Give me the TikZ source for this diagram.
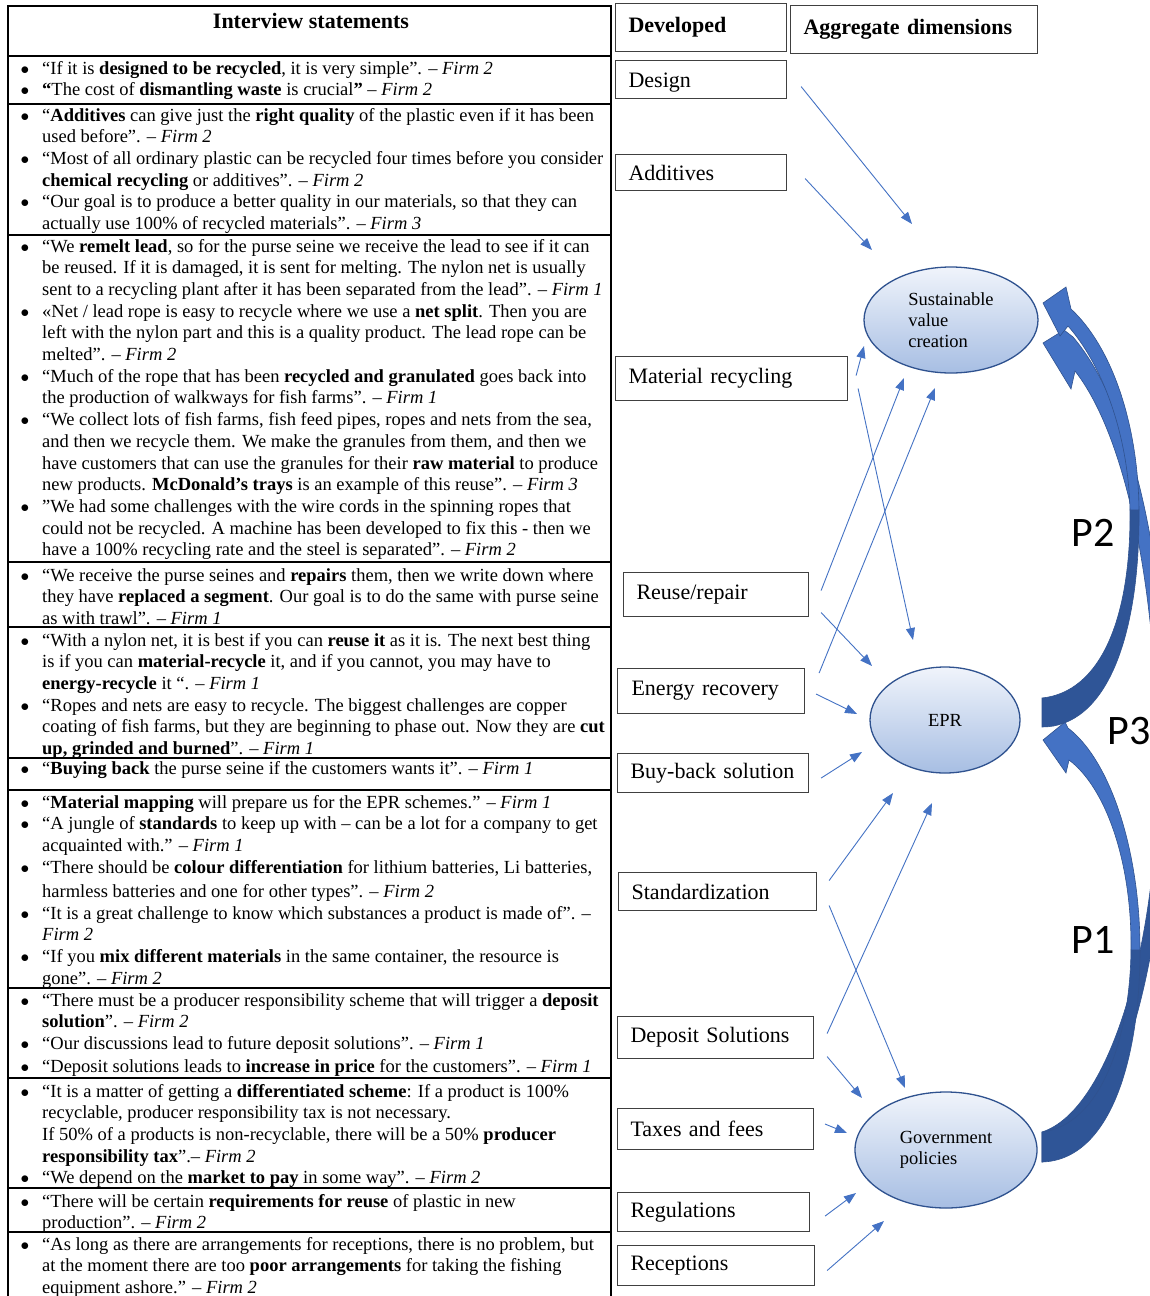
\documentclass[tikz,border=0pt]{standalone}
\usepackage{fontspec}
\setmainfont{Liberation Serif}
\newfontfamily\pfont{Carlito}
\usetikzlibrary{arrows.meta,calc,shapes.geometric}
\definecolor{arrblue}{HTML}{4472C4}
\definecolor{darkblue}{HTML}{2F5597}
\definecolor{edgeblue}{HTML}{2F528F}
\definecolor{ellTop}{HTML}{F0F4FB}
\definecolor{ellBot}{HTML}{A7BEE3}
\newcommand{\bl}{\makebox[22pt][l]{\hspace{0.5pt}$\bullet$}}
\begin{document}
\begin{tikzpicture}[x=1pt,y=-1pt,
  rowtext/.style={anchor=base west, inner sep=0pt, font=\fontsize{18.5}{21.7}\selectfont},
  tline/.style={line width=1.4pt, black},
  lbl/.style={draw=black!75, line width=1.1pt, anchor=north west, inner xsep=13pt, inner ysep=0pt, align=left, font=\fontsize{22}{24}\selectfont},
  ell/.style={ellipse, draw=edgeblue, line width=1.3pt, top color=ellTop, bottom color=ellBot, inner sep=0pt, align=left, font=\fontsize{18.5}{21}\selectfont},
  link/.style={arrblue, line width=0.9pt, -{Triangle[length=12pt,width=9pt]}},
  plab/.style={font=\pfont\fontsize{42}{42}\selectfont, inner sep=0pt},
  bandL/.style={fill=arrblue, draw=edgeblue, line width=0.6pt},
  bandD/.style={fill=darkblue, draw=edgeblue, line width=0.6pt}]
\useasboundingbox (0,0) rectangle (1150,1296);
\fill[white] (0,0) rectangle (1150,1296);
\clip (0,0) rectangle (1150,1296);

% ---------- table ----------
\draw[tline] (8,6) rectangle (611,1300);
\foreach \yy in {56,104,235,562,627,758,790,988,1078,1188,1232}
  \draw[tline] (8,\yy) -- (611,\yy);

\node[inner sep=0pt, font=\fontsize{22}{24}\selectfont\bfseries] (hdr) at (311,21) {Interview statements};

\node[rowtext] (r1) at (20,74) {\begin{tabular}[t]{@{}l@{}l@{}}
\bl & “If it is \textbf{designed to be recycled}, it is very simple”. – \textit{Firm 2}\\
\bl & \textbf{“}The cost of \textbf{dismantling waste} is crucial\textbf{”} – \textit{Firm 2}
\end{tabular}};

\node[rowtext] (r2) at (20,121) {\begin{tabular}[t]{@{}l@{}l@{}}
\bl & “\textbf{Additives} can give just the \textbf{right quality} of the plastic even if it has been\\
 & used before”. – \textit{Firm 2}\\
\bl & “Most of all ordinary plastic can be recycled four times before you consider\\
 & \textbf{chemical recycling} or additives”. – \textit{Firm 2}\\
\bl & “Our goal is to produce a better quality in our materials, so that they can\\
 & actually use 100\% of recycled materials”. – \textit{Firm 3}
\end{tabular}};

\node[rowtext] (r3) at (20,252) {\begin{tabular}[t]{@{}l@{}l@{}}
\bl & “We \textbf{remelt lead}, so for the purse seine we receive the lead to see if it can\\
 & be reused. If it is damaged, it is sent for melting. The nylon net is usually\\
 & sent to a recycling plant after it has been separated from the lead”. – \textit{Firm 1}\\
\bl & «Net / lead rope is easy to recycle where we use a \textbf{net split}. Then you are\\
 & left with the nylon part and this is a quality product. The lead rope can be\\
 & melted”. – \textit{Firm 2}\\
\bl & “Much of the rope that has been \textbf{recycled and granulated} goes back into\\
 & the production of walkways for fish farms”. – \textit{Firm 1}\\
\bl & “We collect lots of fish farms, fish feed pipes, ropes and nets from the sea,\\
 & and then we recycle them. We make the granules from them, and then we\\
 & have customers that can use the granules for their \textbf{raw material} to produce\\
 & new products. \textbf{McDonald’s trays} is an example of this reuse”. – \textit{Firm 3}\\
\bl & "We had some challenges with the wire cords in the spinning ropes that\\
 & could not be recycled. A machine has been developed to fix this - then we\\
 & have a 100\% recycling rate and the steel is separated”. – \textit{Firm 2}
\end{tabular}};

\node[rowtext] (r4) at (20,581) {\begin{tabular}[t]{@{}l@{}l@{}}
\bl & “We receive the purse seines and \textbf{repairs} them, then we write down where\\
 & they have \textbf{replaced a segment}. Our goal is to do the same with purse seine\\
 & as with trawl”. – \textit{Firm 1}
\end{tabular}};

\node[rowtext] (r5) at (20,646) {\begin{tabular}[t]{@{}l@{}l@{}}
\bl & “With a nylon net, it is best if you can \textbf{reuse it} as it is. The next best thing\\
 & is if you can \textbf{material-recycle} it, and if you cannot, you may have to\\
 & \textbf{energy-recycle} it “. – \textit{Firm 1}\\
\bl & “Ropes and nets are easy to recycle. The biggest challenges are copper\\
 & coating of fish farms, but they are beginning to phase out. Now they are \textbf{cut}\\
 & \textbf{up, grinded and burned}”. – \textit{Firm 1}
\end{tabular}};

\node[rowtext] (r6) at (20,774) {\begin{tabular}[t]{@{}l@{}l@{}}
\bl & “\textbf{Buying back} the purse seine if the customers wants it”. – \textit{Firm 1}
\end{tabular}};

\node[rowtext] (r7) at (20,808) {\begin{tabular}[t]{@{}l@{}l@{}}
\bl & “\textbf{Material mapping} will prepare us for the EPR schemes.” – \textit{Firm 1}\\
\bl & “A jungle of \textbf{standards} to keep up with – can be a lot for a company to get\\
 & acquainted with.” – \textit{Firm 1}\\
\bl & “There should be \textbf{colour differentiation} for lithium batteries, Li batteries,\\[2.5pt]
 & harmless batteries and one for other types”. – \textit{Firm 2}\\
\bl & “It is a great challenge to know which substances a product is made of”. –\\
 & \textit{Firm 2}\\
\bl & “If you \textbf{mix different materials} in the same container, the resource is\\
 & gone”. – \textit{Firm 2}
\end{tabular}};

\node[rowtext] (r8) at (20,1006) {\begin{tabular}[t]{@{}l@{}l@{}}
\bl & “There must be a producer responsibility scheme that will trigger a \textbf{deposit}\\
 & \textbf{solution}”. – \textit{Firm 2}\\
\bl & “Our discussions lead to future deposit solutions”. – \textit{Firm 1}\\[1.5pt]
\bl & “Deposit solutions leads to \textbf{increase in price} for the customers”. – \textit{Firm 1}
\end{tabular}};

\node[rowtext] (r9) at (20,1097) {\begin{tabular}[t]{@{}l@{}l@{}}
\bl & “It is a matter of getting a \textbf{differentiated scheme}: If a product is 100\%\\
 & recyclable, producer responsibility tax is not necessary.\\
 & If 50\% of a products is non-recyclable, there will be a 50\% \textbf{producer}\\
 & \textbf{responsibility tax}”.– \textit{Firm 2}\\
\bl & “We depend on the \textbf{market to pay} in some way”. – \textit{Firm 2}
\end{tabular}};

\node[rowtext] (r10) at (20,1207) {\begin{tabular}[t]{@{}l@{}l@{}}
\bl & “There will be certain \textbf{requirements for reuse} of plastic in new\\
 & production”. – \textit{Firm 2}
\end{tabular}};

\node[rowtext] (r11) at (20,1250) {\begin{tabular}[t]{@{}l@{}l@{}}
\bl & “As long as there are arrangements for receptions, there is no problem, but\\
 & at the moment there are too \textbf{poor arrangements} for taking the fishing\\
 & equipment ashore.” – \textit{Firm 2}
\end{tabular}};

% ---------- label boxes ----------
\node[lbl, minimum width=171pt, minimum height=48pt, text width=145pt] (dev) at (615,3) {\textbf{Developed}};
\node[lbl, minimum width=247pt, minimum height=48pt, text width=221pt] (agg) at (790,5) {\textbf{Aggregate dimensions}};
\node[lbl, minimum width=171pt, minimum height=38pt, text width=145pt, text height=17pt, text depth=2pt] (design) at (615,60) {Design};
\node[lbl, minimum width=171pt, minimum height=36pt, text width=145pt] (additives) at (615,154) {Additives};
\node[lbl, minimum width=232pt, minimum height=44pt, text width=206pt] (matrec) at (615,356) {Material recycling};
\node[lbl, minimum width=185pt, minimum height=44pt, text width=159pt] (reuse) at (623,572) {Reuse/repair};
\node[lbl, minimum width=187pt, minimum height=45pt, text width=159pt, inner xsep=14pt] (energy) at (617,668) {Energy recovery};
\node[lbl, minimum width=191pt, minimum height=39pt, text width=165pt] (buyback) at (617,753) {Buy-back solution};
\node[lbl, minimum width=198pt, minimum height=38pt, text width=172pt] (standard) at (618,872) {Standardization};
\node[lbl, minimum width=196pt, minimum height=42pt, text width=170pt] (deposit) at (617,1016) {Deposit Solutions};
\node[lbl, minimum width=196pt, minimum height=41pt, text width=170pt] (taxes) at (617,1108) {Taxes and fees};
\node[lbl, minimum width=192pt, minimum height=39pt, text width=166pt] (regul) at (617,1192) {Regulations};
\node[lbl, minimum width=197pt, minimum height=40pt, text width=171pt] (recep) at (617,1245) {Receptions};

% ---------- curved thick arrows ----------
% P3: Government policies -> Sustainable value creation (lower head)
\path[bandD] (1168,740) .. controls (1170,950) and (1120,1140) .. (1042,1162) -- (1042,1132) .. controls (1110,1110) and (1162,940) .. (1158,740) -- cycle;
\path[bandL] (1073,337) .. controls (1120,392) and (1165,520) .. (1168,740) -- (1158,740) .. controls (1152,540) and (1115,422) .. (1075,371) -- (1071,389) -- (1043,343) -- (1064,330) -- cycle;
% P1: Government policies -> EPR
\path[bandD] (1140,950) .. controls (1140,1060) and (1110,1160) .. (1042,1162) -- (1042,1132) .. controls (1100,1125) and (1130,1040) .. (1131,950) -- cycle;
\path[bandL] (1068,728) .. controls (1110,760) and (1140,850) .. (1140,950) -- (1131,950) .. controls (1132,860) and (1105,787) .. (1069,760) -- (1066,773) -- (1043,740) -- (1065,722) -- cycle;
% P2: EPR -> Sustainable value creation (upper head)
\path[bandD] (1042,727) .. controls (1105,727) and (1140,640) .. (1139,510) -- (1130,510) .. controls (1131,620) and (1100,692) .. (1042,698) -- cycle;
\path[bandL] (1139,510) .. controls (1138,420) and (1110,345) .. (1071,309) -- (1066,287) -- (1043,303) -- (1060,336) -- (1068,326) .. controls (1100,362) and (1128,430) .. (1130,510) -- cycle;

% ---------- ellipses ----------
\node[ell, minimum width=174pt, minimum height=106pt] (svc) at (951,320) {Sustainable\\value\\creation};
\node[ell, minimum width=150pt, minimum height=106pt] (epr) at (945,720) {EPR};
\node[ell, minimum width=182pt, minimum height=116pt] (gov) at (946,1150) {Government\\policies};

\node[plab] (p2) at (1093,533) {P2};
\node[plab] (p3) at (1129,731) {P3};
\node[plab] (p1) at (1093,940) {P1};

% ---------- thin arrows ----------
\draw[link] ($(design.east)+(14,7)$) -- ($(svc.center)+(-39,-96)$);
\draw[link] ($(additives.east)+(18,6)$) -- ($(svc.center)+(-79,-70)$);
\draw[link] ($(matrec.east)+(8,-3)$) -- ($(svc.center)+(-87,26)$);
\draw[link] ($(matrec.east)+(10,10)$) -- ($(epr.center)+(-32,-80)$);
\draw[link] ($(reuse.east)+(12,-4)$) -- ($(svc.center)+(-47,58)$);
\draw[link] ($(reuse.east)+(12,18)$) -- ($(epr.center)+(-73,-54)$);
\draw[link] ($(energy.east)+(14,-18)$) -- ($(svc.center)+(-16,68)$);
\draw[link] ($(energy.east)+(11,3)$) -- ($(epr.center)+(-88,-6)$);
\draw[link] ($(buyback.east)+(12,5)$) -- ($(epr.center)+(-83,32)$);
\draw[link] ($(standard.east)+(12,-11)$) -- ($(epr.center)+(-52,73)$);
\draw[link] ($(deposit.east)+(13,-4)$) -- ($(epr.center)+(-13,83)$);
\draw[link] ($(standard.east)+(12,14)$) -- ($(gov.center)+(-41,-62)$);
\draw[link] ($(deposit.east)+(13,19)$) -- ($(gov.center)+(-84,-52)$);
\draw[link] ($(taxes.east)+(11,-5)$) -- ($(gov.center)+(-99,-17)$);
\draw[link] ($(regul.east)+(15,4)$) -- ($(gov.center)+(-90,43)$);
\draw[link] ($(recep.east)+(12,5)$) -- ($(gov.center)+(-62,71)$);
\end{tikzpicture}
\end{document}
